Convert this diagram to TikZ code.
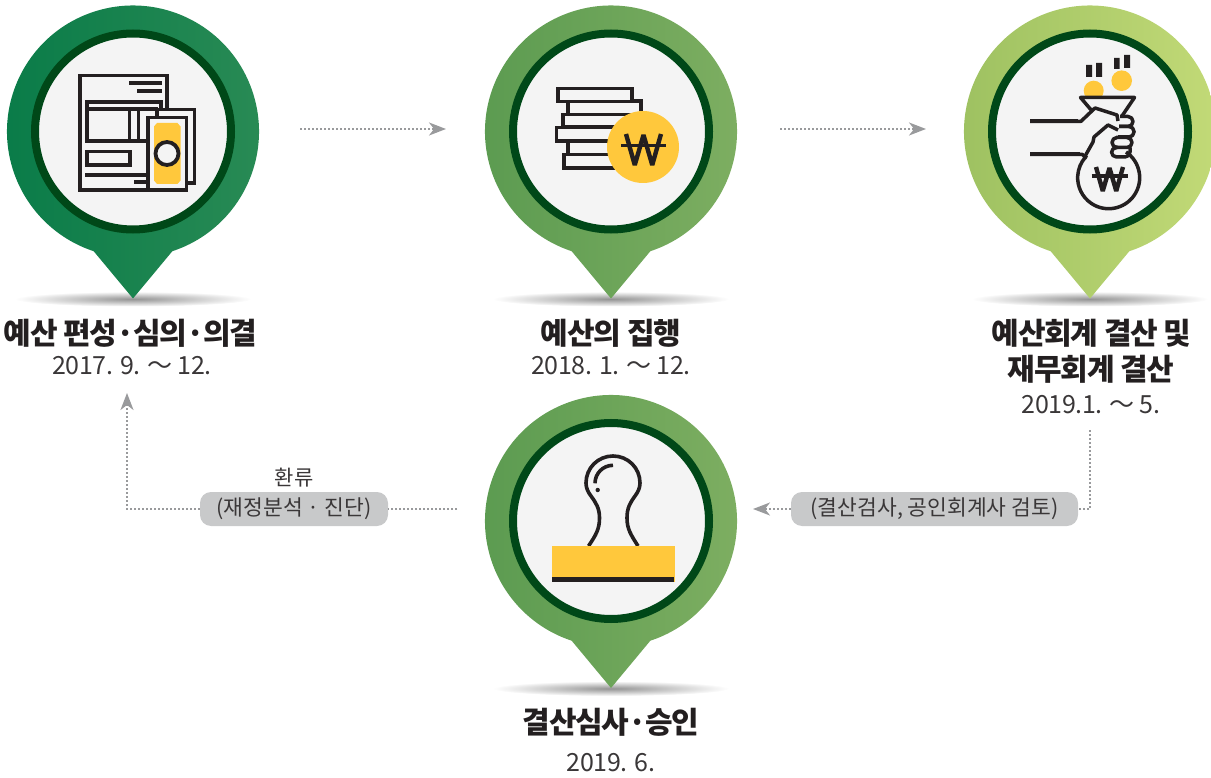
\documentclass[tikz,border=0pt]{standalone}
\usepackage{fontspec}
\setmainfont{Noto Sans CJK KR}
\newfontfamily\ttlfont[LetterSpace=-4]{Noto Sans CJK KR}
\newfontfamily\datefont[LetterSpace=-1.5]{Noto Sans CJK KR}
\usetikzlibrary{arrows.meta}
\definecolor{inkc}{HTML}{231F20}
\definecolor{yelc}{HTML}{FFC83C}
\definecolor{ringc}{HTML}{004818}
\definecolor{facec}{HTML}{F4F4F4}
\definecolor{linkc}{HTML}{999A9C}
\definecolor{pillc}{HTML}{C8C9CA}
\definecolor{txtc}{HTML}{231F20}
\definecolor{thinc}{HTML}{3A3738}
\definecolor{aL}{HTML}{087B48}\definecolor{aR}{HTML}{2A8B55}
\definecolor{bL}{HTML}{5A9A50}\definecolor{bR}{HTML}{7FAF62}
\definecolor{cL}{HTML}{9CC060}\definecolor{cR}{HTML}{C4DB78}
\tikzset{
  x=1pt,y=-1pt,
  icon/.style={draw=inkc,line width=3.5pt,fill=none,line join=miter},
  icontin/.style={draw=inkc,line width=3.5pt,fill=none,line join=round},
  wonline/.style={draw=inkc,line width=4.4pt,fill=none,line join=bevel},
  ttl/.style={font=\ttlfont\bfseries\fontsize{30}{32}\selectfont,text=txtc,inner sep=0pt},
  dat/.style={font=\datefont\fontsize{25}{28}\selectfont,text=thinc,inner sep=0pt},
  pilltxt/.style={rounded corners=11pt,fill=pillc,text=thinc,inner sep=0pt,minimum height=34pt,font=\fontsize{21.5}{24}\selectfont},
  captxt/.style={text=thinc,inner sep=0pt,font=\fontsize{21}{24}\selectfont},
  linkline/.style={draw=linkc,line width=1.8pt,dash pattern=on 1.8pt off 2.2pt},
  linktip/.style={-{Stealth[length=17pt,width=13pt,inset=5pt,fill=linkc]}},
  hole/.style={circle,inner sep=0pt,minimum size=196pt,fill=facec,draw=ringc,line width=8pt},
}
\newcommand{\pinmark}[5]{%
  \shade[inner color=black!42,outer color=white] (#2,#3+167.5) ellipse[x radius=118,y radius=7.5];
  \shade[left color=#4,right color=#5]
    (#2,#3) ++(71.8:126) arc[start angle=71.8,end angle=-251.8,radius=126] -- (#2,#3+167) -- cycle;
  \node[hole] (#1) at (#2,#3) {};
}
\newcommand{\wonmark}[5]{% cx, top, half width, height, bar half width
  \draw[wonline] (#1-#3,#2) -- (#1-#3/2,#2+#4) -- (#1,#2+1) -- (#1+#3/2,#2+#4) -- (#1+#3,#2);
  \draw[wonline,line width=3.4pt] (#1-#5,#2+#4*0.38) -- (#1+#5,#2+#4*0.38);
}
\begin{document}
\begin{tikzpicture}
\useasboundingbox (0,0) rectangle (1211,778);
\pinmark{pinA}{133}{131.5}{aL}{aR}
\pinmark{pinB}{611}{131.5}{bL}{bR}
\pinmark{pinC}{1090}{131.5}{cL}{cR}
\pinmark{pinD}{611}{521}{bL}{bR}
% icon A
\draw[icon] (167,108) -- (167,75.5) -- (80,75.5) -- (80,190) -- (148,190);
\draw[icon] (129,83) -- (162,83) (137,91) -- (162,91);
\draw[icon] (147,141) -- (87,141) -- (87,102) -- (161,102) -- (161,109);
\draw[icon] (87,109) -- (158,109) (129.5,109) -- (129.5,141) (138.5,109) -- (138.5,141);
\draw[icon] (87,151.5) rectangle (130,165);
\draw[icon] (85,175) -- (147,175) (134,182) -- (147,182);
\draw[icon] (157,116) -- (157,109.5) -- (194.5,109.5) -- (194.5,183) -- (187,183);
\draw[icon,fill=facec] (148,117.5) rectangle (186.5,190);
\fill[yelc] (157,123) -- (177.5,123) -- (180.5,126.5) -- (180.5,180.5) -- (177.5,184) -- (157,184) -- (154,180.5) -- (154,126.5) -- cycle;
\draw[inkc,line width=3.8pt,fill=facec] (167,153.5) circle[radius=11.5];
% icon B
\draw[icon] (558,88.5) rectangle (632,101.5);
\draw[icon] (568,102) -- (568,114) (632,101) -- (641,101) -- (641,114);
\draw[icon] (563,114.5) rectangle (641,127);
\draw[icon] (556.5,127.5) rectangle (635,141);
\draw[icon] (568,141) -- (568,154);
\draw[icon] (564,154.5) rectangle (640,168);
\fill[yelc] (643,147) circle[radius=36];
\wonmark{643.5}{134}{17.5}{31}{22.5}
% icon C
\fill[inkc] (1086,65) rectangle (1092,77) (1096,63) rectangle (1102,77)
  (1114,58) rectangle (1119.5,69) (1124,55) rectangle (1130,68);
\begin{scope}
\clip (1070,50) rectangle (1150,97);
\fill[yelc] (1093.7,90.7) circle[radius=10];
\end{scope}
\fill[yelc] (1121.7,80.7) circle[radius=10.3];
\draw[icontin] (1092,111) -- (1080.5,97.5) -- (1134.5,97.5) -- (1122,116);
\draw[icontin] (1030,121.3) -- (1081,121.3) -- (1095,108) -- (1117,115) -- (1118,121);
\draw[icontin] (1030,154.3) -- (1082,154.3) -- (1087,158);
\draw[icon,line width=4.4pt] (1030,121.3) -- (1078,121.3) (1030,154.3) -- (1080,154.3);
\draw[icontin] (1118,130) -- (1108,125) -- (1094,137) -- (1093,142) -- (1084,158);
\draw[icontin,rounded corners=5pt] (1120,116.5) -- (1133,116.5) -- (1133,126.5) -- (1119,126.5);
\draw[icontin,rounded corners=5pt] (1119,126.5) -- (1134,126.5) -- (1134,137) -- (1118,137);
\draw[icontin,rounded corners=5pt] (1118,137.5) -- (1112,137.5) -- (1112,147.5) -- (1132,147.5) -- (1132,137.5) -- (1116,137.5);
\draw[icontin,rounded corners=5pt] (1118,147.5) -- (1111.5,147.5) -- (1111.5,157) -- (1130,157) -- (1130,147.5);
\draw[icontin] (1126,152) arc[start angle=-56,end angle=222,radius=31];
\wonmark{1109.5}{167}{13.5}{24}{18}
% icon D
\draw[inkc,line width=3.6pt] (588.5,546) .. controls (596,535) and (599.5,529) .. (599.5,518)
  .. controls (599.5,508) and (596,503) .. (591,496)
  .. controls (588,492) and (586,488) .. (586,483)
  .. controls (586,468) and (598,456) .. (613,456)
  .. controls (628,456) and (640,468) .. (640,483)
  .. controls (640,488) and (638,492) .. (635,496)
  .. controls (630,503) and (627,508) .. (627,518)
  .. controls (627,529) and (631,535) .. (638,546);
\draw[inkc,line width=3.6pt] (595,483.3) arc[start angle=180,end angle=270,radius=18];
\fill[inkc] (597.7,490) circle[radius=2.2];
\fill[yelc] (552,546) rectangle (675,582);
\fill[inkc] (552,577) rectangle (674,582);
% texts
\node[ttl] (tA) at (130.5,333) {예산 편성·심의·의결};
\node[dat] (dA) at (132,366) {2017. 9. ～ 12.};
\node[ttl] (tB) at (611,333) {예산의 집행};
\node[dat] (dB) at (611,366) {2018. 1. ～ 12.};
\node[ttl] (tC) at (1091.5,333) {예산회계 결산 및};
\node[ttl] (tC2) at (1091,369) {재무회계 결산};
\node[dat] (dC) at (1091,405) {2019.1. ～ 5.};
\node[ttl] (tD) at (611,722) {결산심사·승인};
\node[dat] (dD) at (611,763) {2019. 6.};
\node[captxt] (back) at (294,478) {환류};
\node[pilltxt,minimum width=188pt] (pillA) at (294,509) {(재정분석 · 진단)};
\node[pilltxt,minimum width=287pt] (pillB) at (934.5,509) {(결산검사, 공인회계사 검토)};
% connectors
\coordinate (a1) at (300,129); \coordinate (a2) at (446,129);
\coordinate (b1) at (780,129); \coordinate (b2) at (926,129);
\coordinate (c1) at (1090,430); \coordinate (c2) at (1090,509); \coordinate (c3) at (753,509);
\coordinate (d1) at (457,509); \coordinate (d2) at (127,509); \coordinate (d3) at (127,393);
\draw[linkline,linktip] (a1) -- (a2);
\draw[linkline,linktip] (b1) -- (b2);
\draw[linkline] (c1) -- (c2) -- (pillB.east);
\draw[linkline,linktip] (pillB.west) -- (c3);
\draw[linkline] (d1) -- (pillA.east);
\draw[linkline,linktip] (pillA.west) -- (d2) -- (d3);
\end{tikzpicture}
\end{document}
